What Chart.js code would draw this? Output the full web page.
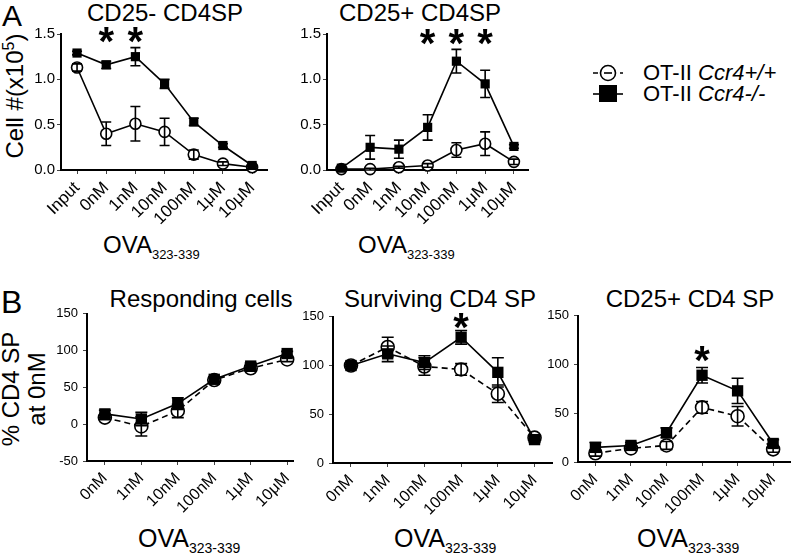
<!DOCTYPE html>
<html>
<head>
<meta charset="utf-8">
<script src="https://cdn.jsdelivr.net/npm/chart.js@4/dist/chart.umd.min.js"></script>
<style>
  body { margin: 0; background: #fff; }
  #fig { position: relative; width: 799px; height: 555px; overflow: hidden; font-family: "Liberation Sans", Arial, sans-serif; color: #000; }
  .abs { position: absolute; white-space: nowrap; line-height: 1; }
  .ctr { transform: translateX(-50%); }
  canvas { position: absolute; }
  .sub { font-size: 13px; position: relative; top: 6px; }
  .leg { position: absolute; left: 592px; height: 20px; display: flex; align-items: center; font-size: 22px; }
  .leg svg { margin-right: 19px; }
</style>
</head>
<body>
<div id="fig">
  <div class="abs" style="left:2px;top:1px;font-size:30px;">A</div>
  <div class="abs" style="left:1px;top:286px;font-size:32px;">B</div>

  <div class="abs ctr" style="left:165px;top:1px;font-size:24px;">CD25- CD4SP</div>
  <div class="abs ctr" style="left:420px;top:1px;font-size:24px;">CD25+ CD4SP</div>
  <div class="abs ctr" style="left:201px;top:287px;font-size:24px;">Responding cells</div>
  <div class="abs ctr" style="left:440px;top:287px;font-size:24px;">Surviving CD4 SP</div>
  <div class="abs ctr" style="left:690px;top:287px;font-size:24px;">CD25+ CD4 SP</div>

  <div class="abs" style="left:14px;top:96px;font-size:24px;transform:translate(-50%,-50%) rotate(-90deg);">Cell #(x10<sup style="font-size:16px;">5</sup>)</div>
  <div class="abs" style="left:24px;top:389px;font-size:24px;line-height:26px;text-align:center;transform:translate(-50%,-50%) rotate(-90deg);">% CD4 SP<br>at 0nM</div>

  <div class="abs" style="left:103px;top:233px;font-size:24px;">OVA<span class="sub">323-339</span></div>
  <div class="abs" style="left:358px;top:233px;font-size:24px;">OVA<span class="sub">323-339</span></div>
  <div class="abs" style="left:138px;top:526px;font-size:25px;">OVA<span class="sub" style="font-size:14px;">323-339</span></div>
  <div class="abs" style="left:394px;top:526px;font-size:25px;">OVA<span class="sub" style="font-size:14px;">323-339</span></div>
  <div class="abs" style="left:637px;top:526px;font-size:25px;">OVA<span class="sub" style="font-size:14px;">323-339</span></div>

  <div class="leg" style="top:63px;">
    <svg width="32" height="20"><line x1="1" y1="10" x2="31" y2="10" stroke="#000" stroke-width="1.6" stroke-dasharray="5,4"/><circle cx="16" cy="10" r="7.5" fill="#fff" stroke="#000" stroke-width="1.6"/><line x1="12" y1="10" x2="20" y2="10" stroke="#000" stroke-width="1.6"/></svg>
    <span>OT-II <i>Ccr4+/+</i></span>
  </div>
  <div class="leg" style="top:84px;">
    <svg width="32" height="20"><line x1="1" y1="10" x2="31" y2="10" stroke="#000" stroke-width="1.6"/><rect x="7" y="1" width="18" height="17" fill="#000"/></svg>
    <span>OT-II <i>Ccr4-/-</i></span>
  </div>

  <canvas id="a1"></canvas>
  <canvas id="a2"></canvas>
  <canvas id="b1"></canvas>
  <canvas id="b2"></canvas>
  <canvas id="b3"></canvas>
</div>

<script>
  'use strict';

  var labelsA = ['Input', '0nM', '1nM', '10nM', '100nM', '1μM', '10μM'];
  var labelsB = ['0nM', '1nM', '10nM', '100nM', '1μM', '10μM'];

  // A: CD25- CD4SP (x10^5 cells)
  var a1Ko = [1.29, 1.16, 1.25, 0.95, 0.53, 0.27, 0.05];
  var a1KoErr = [0.02, 0.04, 0.10, 0.05, 0.04, 0.02, 0.01];
  var a1Wt = [1.13, 0.40, 0.51, 0.42, 0.17, 0.07, 0.03];
  var a1WtErr = [0.04, 0.13, 0.19, 0.15, 0.05, 0.02, 0.01];
  var a1Stars = ['0nM', '1nM'];

  // A: CD25+ CD4SP
  var a2Ko = [0.02, 0.25, 0.23, 0.47, 1.20, 0.95, 0.26];
  var a2KoErr = [0.01, 0.13, 0.10, 0.14, 0.13, 0.15, 0.02];
  var a2Wt = [0.01, 0.01, 0.03, 0.05, 0.22, 0.29, 0.09];
  var a2WtErr = [0.005, 0.01, 0.01, 0.02, 0.08, 0.13, 0.03];
  var a2Stars = ['10nM', '100nM', '1μM'];

  // B: Responding cells (% of CD4 SP at 0nM)
  var b1Ko = [14, 7, 28, 61, 79, 96];
  var b1KoErr = [5, 9, 8, 3, 4, 3];
  var b1Wt = [9, -3, 18, 60, 76, 88];
  var b1WtErr = [3, 13, 9, 3, 4, 3];
  var b1Stars = [];

  // B: Surviving CD4 SP
  var b2Ko = [100, 112, 103, 129, 93, 24];
  var b2KoErr = [1, 8, 7, 7, 15, 3];
  var b2Wt = [100, 119, 99, 96, 71, 26];
  var b2WtErr = [1, 10, 9, 6, 9, 2];
  var b2Stars = ['100nM'];

  // B: CD25+ CD4 SP
  var b3Ko = [15, 17, 30, 89, 73, 19];
  var b3KoErr = [5, 3, 5, 8, 13, 4];
  var b3Wt = [9, 14, 17, 56, 47, 13];
  var b3WtErr = [3, 2, 4, 6, 10, 3];
  var b3Stars = ['100nM'];

  // error bars + significance stars, drawn on top of the points
  var markPlugin = {
    id: 'marks',
    afterDatasetsDraw: function (chart, args, opts) {
      var ctx = chart.ctx;
      var xs = chart.scales.x;
      var ys = chart.scales.y;
      ctx.save();
      ctx.strokeStyle = '#000';
      ctx.lineWidth = 1.6;
      chart.data.datasets.forEach(function (ds, di) {
        var meta = chart.getDatasetMeta(di);
        meta.data.forEach(function (pt, i) {
          var v = ds.data[i].y;
          var e = ds.errors[i];
          var top = ys.getPixelForValue(v + e);
          var bot = ys.getPixelForValue(v - e);
          var x = pt.x;
          ctx.beginPath();
          ctx.moveTo(x, top); ctx.lineTo(x, bot);
          ctx.moveTo(x - opts.cap, top); ctx.lineTo(x + opts.cap, top);
          ctx.moveTo(x - opts.cap, bot); ctx.lineTo(x + opts.cap, bot);
          ctx.stroke();
        });
      });
      ctx.fillStyle = '#000';
      ctx.font = 'bold 40px "Liberation Sans", Arial, sans-serif';
      ctx.textAlign = 'center';
      ctx.textBaseline = 'alphabetic';
      var m = ctx.measureText('*');
      var mid = (m.actualBoundingBoxAscent - m.actualBoundingBoxDescent) / 2;
      opts.stars.forEach(function (s) {
        var x = xs.getPixelForValue(opts.labels.indexOf(s));
        var y = ys.getPixelForValue(opts.starY);
        ctx.fillText('*', x, y + mid);
      });
      ctx.restore();
    }
  };

  function pts(arr) {
    return arr.map(function (v, i) { return { x: i, y: v }; });
  }

  function makePanel(id, box, labels, ko, koErr, wt, wtErr, y, xr, stars, starY, dashed, sz) {
    var yW = 45, xH = 62, padT = 12;
    var el = document.getElementById(id);
    el.style.left = (box.l - yW) + 'px';
    el.style.top = (box.t - padT) + 'px';
    el.width = (box.r - box.l) + yW + box.pr;
    el.height = (box.b - box.t) + padT + xH;

    new Chart(el.getContext('2d'), {
      type: 'line',
      data: {
        datasets: [{
          label: 'OT-II Ccr4-/-',
          data: pts(ko),
          errors: koErr,
          borderColor: '#000',
          borderWidth: 1.6,
          backgroundColor: '#000',
          pointStyle: 'rect',
          pointRadius: sz.sq,
          pointBorderWidth: 0,
          pointBackgroundColor: '#000'
        }, {
          label: 'OT-II Ccr4+/+',
          data: pts(wt),
          errors: wtErr,
          borderColor: '#000',
          borderWidth: 1.6,
          borderDash: dashed ? [6, 4] : [],
          pointStyle: 'circle',
          pointRadius: sz.ci,
          pointBorderWidth: 1.6,
          pointBorderColor: '#000',
          pointBackgroundColor: '#fff'
        }]
      },
      options: {
        responsive: false,
        animation: false,
        clip: false,
        layout: { padding: { left: 0, top: padT, right: box.pr, bottom: 0 } },
        plugins: {
          legend: { display: false },
          tooltip: { enabled: false },
          marks: { labels: labels, stars: stars, starY: starY, cap: sz.cap }
        },
        scales: {
          x: {
            type: 'linear',
            min: xr[0],
            max: xr[1],
            afterFit: function (s) { s.height = xH; },
            afterBuildTicks: function (s) {
              s.ticks = labels.map(function (_, i) { return { value: i }; });
            },
            grid: { drawOnChartArea: false, drawTicks: true, tickLength: 4, color: '#444', lineWidth: 1 },
            border: { display: true, color: '#000', width: 2 },
            ticks: {
              autoSkip: false,
              maxRotation: 45,
              minRotation: 45,
              padding: 4,
              color: '#000',
              font: { family: '"Liberation Sans", Arial, sans-serif', size: sz.xf },
              callback: function (v) { return labels[v]; }
            }
          },
          y: {
            min: y[0],
            max: y[1],
            afterFit: function (s) { s.width = yW; },
            grid: { drawOnChartArea: false, drawTicks: true, tickLength: 4, color: '#444', lineWidth: 1 },
            border: { display: true, color: '#000', width: 2 },
            ticks: {
              stepSize: y[2],
              padding: sz.yp,
              color: '#000',
              font: { family: '"Liberation Sans", Arial, sans-serif', size: sz.yf },
              callback: function (v) { return y[3] ? v.toFixed(1) : String(v); }
            }
          }
        }
      },
      plugins: [markPlugin]
    });
  }

  var sizeA = { sq: 6.5, ci: 5.5, cap: 5, xf: 17, yf: 15, yp: 2 };
  var sizeB = { sq: 8, ci: 6.5, cap: 6, xf: 16, yf: 13, yp: 5 };

  makePanel('a1', { l: 61, r: 267, t: 34, b: 170, pr: 8 }, labelsA, a1Ko, a1KoErr, a1Wt, a1WtErr,
    [0, 1.5, 0.5, true], [-0.55, 6.51], a1Stars, 1.49, false, sizeA);
  makePanel('a2', { l: 327, r: 528, t: 34, b: 170, pr: 8 }, labelsA, a2Ko, a2KoErr, a2Wt, a2WtErr,
    [0, 1.5, 0.5, true], [-0.5, 6.49], a2Stars, 1.47, false, sizeA);
  makePanel('b1', { l: 87, r: 297, t: 313, b: 461, pr: 8 }, labelsB, b1Ko, b1KoErr, b1Wt, b1WtErr,
    [-50, 150, 50, false], [-0.49, 5.18], b1Stars, 0, true, sizeB);
  makePanel('b2', { l: 333, r: 553, t: 316, b: 463, pr: 8 }, labelsB, b2Ko, b2KoErr, b2Wt, b2WtErr,
    [0, 150, 50, false], [-0.49, 5.5], b2Stars, 146, true, sizeB);
  makePanel('b3', { l: 578, r: 798, t: 315, b: 462, pr: 1 }, labelsB, b3Ko, b3KoErr, b3Wt, b3WtErr,
    [0, 150, 50, false], [-0.49, 5.5], b3Stars, 111, true, sizeB);
</script>
</body>
</html>
